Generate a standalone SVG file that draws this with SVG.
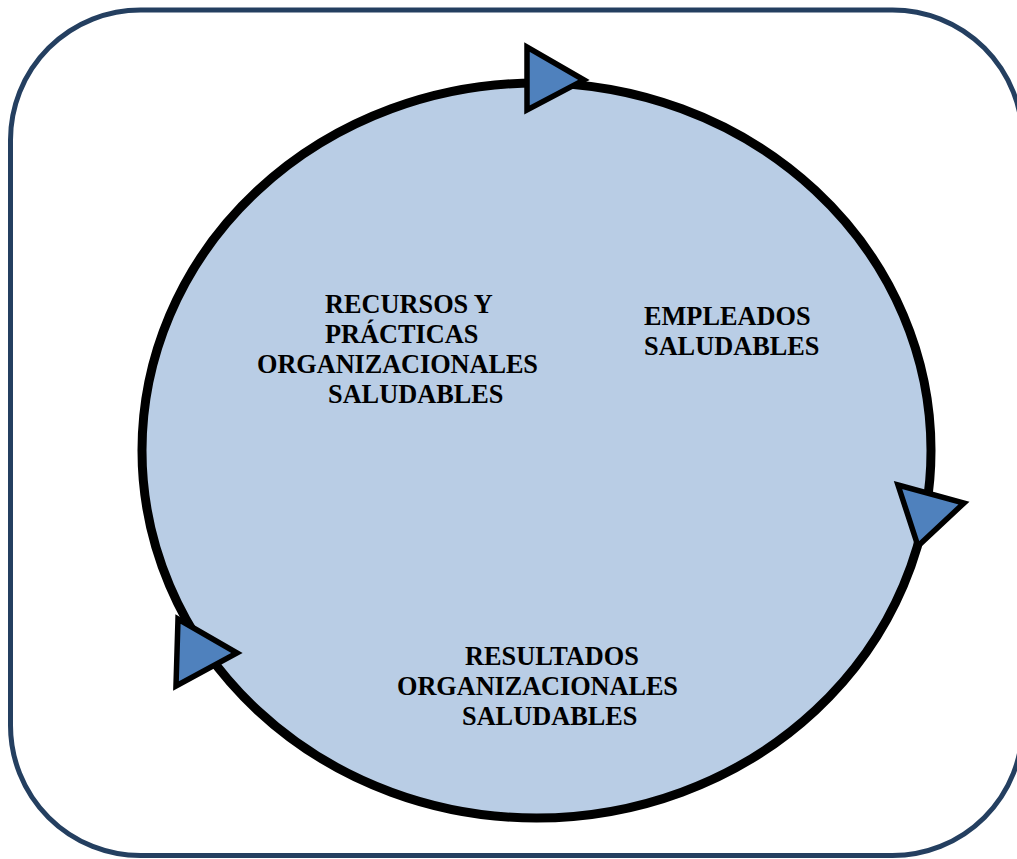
<svg xmlns="http://www.w3.org/2000/svg" width="1017" height="859" viewBox="0 0 1017 859">
  <style>
    .frame { fill: #ffffff; stroke: #243f60; stroke-width: 5; }
    .cycle { fill: #b9cde5; stroke: #000000; stroke-width: 9; }
    .arrow { fill: #4f81bd; stroke: #000000; stroke-width: 5.5; stroke-linejoin: miter; }
    .label { font-family: "Liberation Serif", "Times New Roman", serif; font-weight: bold; font-size: 26.3px; fill: #000000; }
  </style>

  <!-- outer rounded frame -->
  <g id="frame">
    <rect class="frame" x="10.5" y="10" width="1012" height="845.5" rx="130" ry="130"/>
  </g>

  <!-- cycle ring -->
  <g id="cycle">
    <ellipse class="cycle" cx="536.5" cy="450.5" rx="394.5" ry="367.5"/>
  </g>

  <!-- direction arrowheads on the ring -->
  <g id="connectors">
    <polygon class="arrow" points="527,47 527,110 584,80"/>
    <polygon class="arrow" points="898,485 964,503 918,546"/>
    <polygon class="arrow" points="178,619 176,686 237,653"/>
  </g>

  <g id="node-recursos">
    <text class="label" x="325" y="313">RECURSOS Y</text>
    <text class="label" x="325" y="343">PRÁCTICAS</text>
    <text class="label" x="257" y="373" textLength="281" lengthAdjust="spacing">ORGANIZACIONALES</text>
    <text class="label" x="328" y="403">SALUDABLES</text>
  </g>

  <g id="node-empleados">
    <text class="label" x="644" y="325">EMPLEADOS</text>
    <text class="label" x="644" y="355">SALUDABLES</text>
  </g>

  <g id="node-resultados">
    <text class="label" x="465" y="665">RESULTADOS</text>
    <text class="label" x="397" y="695" textLength="281" lengthAdjust="spacing">ORGANIZACIONALES</text>
    <text class="label" x="462" y="725">SALUDABLES</text>
  </g>
</svg>
